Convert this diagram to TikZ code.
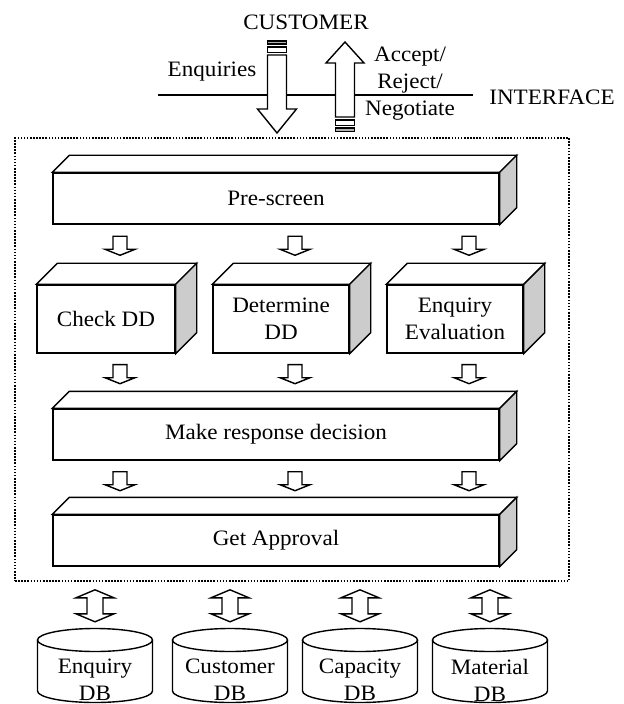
\documentclass[tikz,border=0pt]{standalone}
\usepackage{fontspec}
\setmainfont{Liberation Serif}[FakeStretch=1.05]
\usetikzlibrary{calc}

\tikzset{
  face/.style={draw, line width=0.7pt, fill=white},
  side/.style={draw, line width=0.7pt, fill=gray!40},
  bar/.style={draw, line width=0.7pt, fill=gray!60},
  front/.style={face, align=center, inner sep=0pt},
  lbl/.style={align=center, inner sep=0pt},
  frame/.style={draw, line width=0.8pt, dash pattern=on 0.8pt off 0.75pt},
  downarr/.pic={\draw[face] (-7,0) -- (7,0) -- (7,13) -- (15,13) -- (0,19) -- (-15,13) -- (-7,13) -- cycle;},
  dbarr/.pic={\draw[face] (0,0) -- (19,8) -- (8,8) -- (8,24) -- (19,24) -- (0,32) -- (-19,24) -- (-8,24) -- (-8,8) -- (-19,8) -- cycle;},
}

% top and side face of a box node
\newcommand{\boxfaces}[2]{%
  \draw[face] (#1.north west) -- ++(#2,-#2) -- ($(#1.north east)+(#2,-#2)$) -- (#1.north east) -- cycle;
  \draw[side] (#1.north east) -- ++(#2,-#2) -- ($(#1.south east)+(#2,-#2)$) -- (#1.south east) -- cycle;
}

\begin{document}
\begin{tikzpicture}[x=0.5pt, y=-0.5pt, font=\fontsize{11}{13.5}\selectfont]
    \useasboundingbox (0,0) rectangle (624,704);

    % customer interface
    \node[lbl] (cust) at (306,22) {CUSTOMER};
    \node[lbl] (enq) at (212,72) {Enquiries};
    \node[lbl] (resp) at (410,84) {Accept/\\Reject/\\Negotiate};
    \node[lbl] (iface) at (552,97) {INTERFACE};
    \coordinate (ifl) at (158,95);
    \coordinate (ifr) at (473,95);
    \draw[line width=0.7pt] (ifl) -- (ifr);

    \draw[bar] (267.5,41) rectangle (286.5,44);
    \draw[face] (267.5,47) rectangle (286.5,52.5);
    \draw[face] (267.5,55) -- (286.5,55) -- (286.5,109) -- (296.5,109) -- (277,133) -- (257.5,109) -- (267.5,109) -- cycle;

    \draw[face] (335.5,117) -- (335.5,63) -- (326,63) -- (345,42) -- (364,63) -- (354.5,63) -- (354.5,117) -- cycle;
    \draw[face] (335.5,120) rectangle (354.5,125.5);
    \draw[bar] (335.5,128) rectangle (354.5,131.5);

    % system
    \node[frame, minimum width=277pt, minimum height=221.5pt] (sys) at (292,359.5) {};

    \node[front, minimum width=223pt, minimum height=25.5pt] (ps) at (276,198.5) {Pre-screen};
    \node[front, minimum width=69pt, minimum height=34pt] (cd) at (106,319) {Check DD};
    \node[front, minimum width=68pt, minimum height=34pt] (dd) at (281,319) {Determine\\DD};
    \node[front, minimum width=68pt, minimum height=34pt] (ee) at (455,319) {Enquiry\\Evaluation};
    \node[front, minimum width=223pt, minimum height=25.5pt] (mr) at (276,434.5) {Make response decision};
    \node[front, minimum width=223pt, minimum height=25.5pt] (ga) at (276,540.5) {Get Approval};

    \boxfaces{ps}{17}
    \boxfaces{cd}{21}
    \boxfaces{dd}{21}
    \boxfaces{ee}{21}
    \boxfaces{mr}{17}
    \boxfaces{ga}{17}

    \foreach \n in {cd,dd,ee} {
        \pic at ($(\n.north)+(14,-48)$) {downarr};
        \pic at ($(\n.south)+(14,11)$) {downarr};
        \pic at ($(\n.south)+(14,118)$) {downarr};
    }

    % databases
    \foreach \n/\x/\t in {edb/95/Enquiry, cdb/230/Customer, kdb/360/Capacity, mdb/490/Material} {
        \draw[face] (\x-57.5,640) -- (\x-57.5,691) arc[start angle=180, end angle=0, x radius=57.5, y radius=11.5] -- (\x+57.5,640);
        \draw[face] (\x,640) ellipse [x radius=57.5, y radius=11.5];
        \node[lbl] (\n) at (\x,680) {\t\\DB};
        \pic at ($(sys.south -| \n)+(0,8)$) {dbarr};
    }
\end{tikzpicture}
\end{document}
